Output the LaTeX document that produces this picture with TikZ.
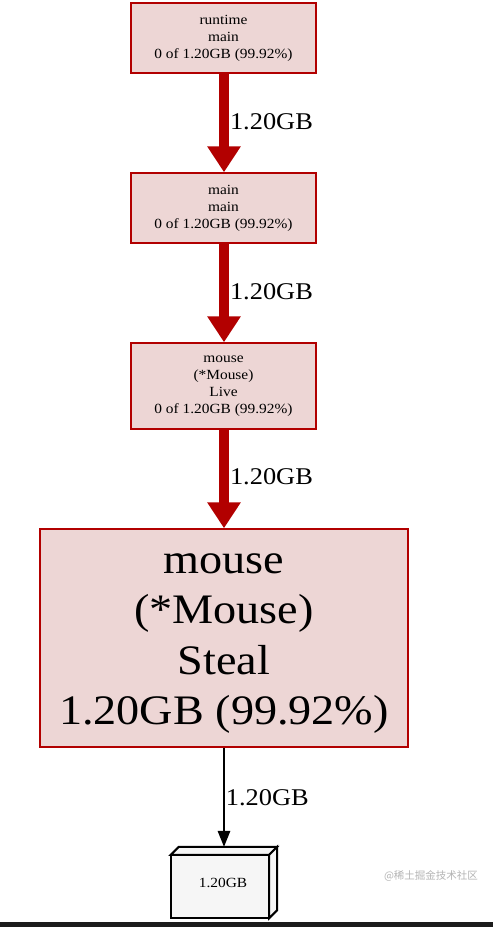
\documentclass[tikz,border=0pt]{standalone}
\usepackage{fontspec}
\usetikzlibrary{arrows.meta}
\newfontfamily\gv[FakeStretch=1.1]{Liberation Serif}
\newfontfamily\cjk{Noto Sans CJK SC}
\definecolor{nodefill}{HTML}{EDD6D5}
\definecolor{nodeline}{HTML}{B20000}
\definecolor{leaffill}{HTML}{F6F6F6}
\definecolor{wmark}{HTML}{B4B4B4}
\definecolor{barcol}{HTML}{1C1C1C}
\tikzset{
  fnode/.style={draw=nodeline, fill=nodefill, line width=1.5pt, inner sep=0pt,
    align=center, minimum width=185pt, font=\gv\fontsize{14}{17}\selectfont},
  bignode/.style={fnode, minimum width=368pt, minimum height=218pt,
    font=\gv\fontsize{42}{50.5}\selectfont},
  hotedge/.style={draw=nodeline, line width=10pt,
    -{Triangle[width=32pt,length=26pt]}},
  thinedge/.style={draw=black, line width=1.6pt,
    -{Triangle[width=12.5pt,length=16pt]}},
  elabel/.style={anchor=west, inner sep=0pt, text=black,
    font=\gv\fontsize{24}{28}\selectfont},
  leafline/.style={draw=black, line width=2pt, fill=leaffill, line join=miter}
}
\begin{document}
\begin{tikzpicture}[x=1pt,y=-1pt]
\useasboundingbox (0,0) rectangle (493,927);
\fill[white] (0,0) rectangle (493,927);
\fill[barcol] (0,922) rectangle (493,927);

\node[fnode, minimum height=70pt] (rt) at (223.5,38) {runtime\\main\\0 of 1.20GB (99.92\%)};
\node[fnode, minimum height=70pt] (mm) at (223.5,208) {main\\main\\0 of 1.20GB (99.92\%)};
\node[fnode, minimum height=86pt] (live) at (223.5,386) {mouse\\(*Mouse)\\Live\\0 of 1.20GB (99.92\%)};
\node[bignode] (steal) at (224,638) {\rule{0pt}{31pt}mouse\\(*Mouse)\\Steal\\1.20GB (99.92\%)};

% box3d leaf
\node[inner sep=0pt, minimum width=106pt, minimum height=71pt] (leaf) at (224,882.5) {};
\path[leafline] (leaf.south west) -- ([yshift=-8pt]leaf.north west) -- ([xshift=-8pt,yshift=-8pt]leaf.north east)
   -- ([xshift=-8pt]leaf.south east) -- cycle;
\path[leafline] ([yshift=-8pt]leaf.north west) -- ([xshift=8pt]leaf.north west) -- (leaf.north east)
   -- ([xshift=-8pt,yshift=-8pt]leaf.north east) -- cycle;
\path[leafline] ([xshift=-8pt,yshift=-8pt]leaf.north east) -- (leaf.north east) -- ([yshift=8pt]leaf.south east)
   -- ([xshift=-8pt]leaf.south east) -- cycle;
\node[font=\gv\fontsize{14}{17}\selectfont] (leaftxt) at (223,882.5) {1.20GB};

\draw[hotedge] (rt.south -| 224,0) -- (mm.north -| 224,0)
  node[elabel, midway, xshift=1pt, yshift=1pt] (l1) {1.20GB};
\draw[hotedge] (mm.south -| 224,0) -- (live.north -| 224,0)
  node[elabel, midway, xshift=1pt, yshift=1pt] (l2) {1.20GB};
\draw[hotedge] (live.south -| 224,0) -- (steal.north -| 224,0)
  node[elabel, midway, xshift=1pt, yshift=2pt] (l3) {1.20GB};
\draw[thinedge] (steal.south) -- (leaf.north)
  node[elabel, midway, xshift=1pt] (l4) {1.20GB};

\node[text=wmark, font=\cjk\fontsize{10.5}{12}\selectfont, inner sep=0pt] (wm) at (431,876) {@稀土掘金技术社区};
\end{tikzpicture}
\end{document}
